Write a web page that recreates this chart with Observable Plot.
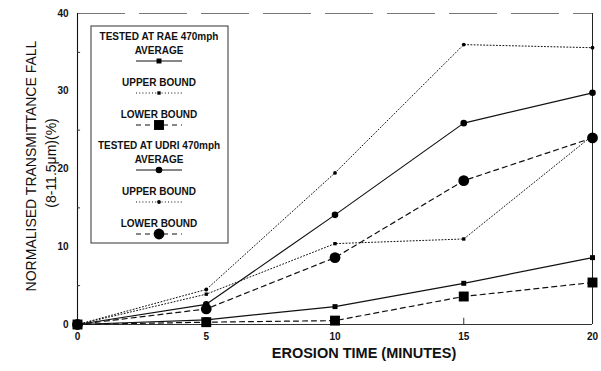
<!DOCTYPE html>
<html><head><meta charset="utf-8">
<script src="https://cdn.jsdelivr.net/npm/d3@7"></script>
<script src="https://cdn.jsdelivr.net/npm/@observablehq/plot@0.6"></script>
<style>
body{margin:0;background:#fff;}
#chart{width:601px;height:371px;}
svg{font-family:"Liberation Sans",Arial,sans-serif;}
</style>
</head><body><div id="chart"></div>
<script>
// Data
const minutes = [0, 5, 10, 15, 20];
const raeAverage = [0, 0.6, 2.3, 5.3, 8.6];
const raeUpper   = [0, 3.9, 10.4, 11.0, 24.3];
const raeLower   = [0, 0.3, 0.5, 3.6, 5.4];
const udriAverage = [0, 2.6, 14.1, 25.9, 29.8];
const udriUpper   = [0, 4.5, 19.5, 36.0, 35.6];
const udriLower   = [0, 2.0, 8.6, 18.5, 24.0];
const yTicks = [0, 10, 20, 30, 40];
const yMinorTicks = [5, 15, 25, 35];
const xTicks = [0, 5, 10, 15, 20];
const xInnerTicks = [5, 10, 15];
const groupTitles = ["TESTED AT RAE 470mph", "TESTED AT UDRI 470mph"];
const boundLabels = ["AVERAGE", "UPPER BOUND", "LOWER BOUND"];

const seriesValues = [raeAverage, raeUpper, raeLower, udriAverage, udriUpper, udriLower];
// styles per series (same order)
const seriesStyle = [
  {symbol: "square", r: 2.8, dash: null, width: 1.2},
  {symbol: "square", r: 1.9, dash: "1,2.2", width: 1},
  {symbol: "square", r: 5.6, dash: "5,4", width: 1.2},
  {symbol: "circle", r: 3.3, dash: null, width: 1.2},
  {symbol: "circle", r: 1.9, dash: "1,2.2", width: 1},
  {symbol: "circle", r: 5.4, dash: "5,4", width: 1.2}
];

const marks = [
  Plot.ruleY([40], {stroke: "#777", strokeDasharray: "48,14", strokeWidth: 1}),
  Plot.ruleX([20], {stroke: "#222", strokeWidth: 1}),
  Plot.ruleX([0], {stroke: "#111", strokeWidth: 1.1}),
  Plot.ruleY([0], {stroke: "#333", strokeWidth: 1.1}),
  Plot.ruleY(yMinorTicks, {x1: 0, x2: 0.12, stroke: "#333"}),
  Plot.ruleX(xInnerTicks, {y1: 0, y2: 0.8, stroke: "#333"})
];
seriesValues.forEach((vals, i) => {
  const s = seriesStyle[i];
  const rows = minutes.map((m, j) => ({m, v: vals[j]}));
  marks.push(Plot.line(rows, {x: "m", y: "v", stroke: "#111", strokeWidth: s.width, strokeDasharray: s.dash}));
});
seriesValues.forEach((vals, i) => {
  const s = seriesStyle[i];
  const rows = minutes.map((m, j) => ({m, v: vals[j]}));
  marks.push(Plot.dot(rows, {x: "m", y: "v", symbol: s.symbol, r: s.r, fill: "#000", stroke: "none"}));
});
marks.push(
  Plot.axisY({ticks: yTicks, tickSize: 0, tickPadding: 9, fontSize: 10, fontWeight: "bold", label: null}),
  Plot.axisX({ticks: xTicks, tickSize: 0, tickPadding: 8, fontSize: 10, fontWeight: "bold", label: null}),
  Plot.text(["NORMALISED TRANSMITTANCE FALL"], {frameAnchor: "left", textAnchor: "middle", dx: -46, dy: -3, rotate: -90, fontSize: 14, fill: "#111"}),
  Plot.text(["(8-11.5\u03bcm)(%)"], {frameAnchor: "left", textAnchor: "middle", dx: -26, dy: -6, rotate: -90, fontSize: 14, fill: "#111"}),
  Plot.text(["EROSION TIME (MINUTES)"], {frameAnchor: "bottom", dx: 29, dy: 33, fontSize: 14.5, fontWeight: "bold", fill: "#111"})
);

const plot = Plot.plot({
  width: 601, height: 371,
  marginLeft: 77, marginRight: 9, marginTop: 13, marginBottom: 47,
  x: {domain: [0, 20]},
  y: {domain: [0, 40]},
  style: {fontFamily: "'Liberation Sans', Arial, sans-serif", color: "#111", background: "#fff"},
  marks
});
document.getElementById("chart").appendChild(plot);

// Legend box inside the plot
const svg = d3.select(plot);
const lg = svg.append("g").attr("font-family", "'Liberation Sans', Arial, sans-serif");
lg.append("rect").attr("x", 91).attr("y", 26).attr("width", 137).attr("height", 217)
  .attr("fill", "#fff").attr("stroke", "#444").attr("stroke-width", 1.1);
const cx = 159;
let y = 36;
const symbolPath = (s) => d3.symbol(s.symbol === "square" ? d3.symbolSquare : d3.symbolCircle, s.symbol === "square" ? Math.pow(s.r * Math.sqrt(Math.PI), 2) : Math.PI * s.r * s.r)();
groupTitles.forEach((title, g) => {
  lg.append("text").attr("x", cx).attr("y", y).attr("dy", "0.35em").attr("text-anchor", "middle")
    .attr("font-size", 10).attr("font-weight", "bold").attr("fill", "#111").text(title);
  y += 14;
  boundLabels.forEach((lab, k) => {
    const s = seriesStyle[g * 3 + k];
    lg.append("text").attr("x", cx).attr("y", y).attr("dy", "0.35em").attr("text-anchor", "middle")
      .attr("font-size", 10).attr("font-weight", "bold").attr("fill", "#111").text(lab);
    const ly = y + 11;
    lg.append("line").attr("x1", cx - 23).attr("x2", cx + 23).attr("y1", ly).attr("y2", ly)
      .attr("stroke", "#111").attr("stroke-width", s.width).attr("stroke-dasharray", s.dash);
    lg.append("path").attr("d", symbolPath(s)).attr("transform", `translate(${cx},${ly})`).attr("fill", "#000");
    y += k < 2 ? 32 : 31;
  });
  y = 145;
});
</script>
</body></html>
